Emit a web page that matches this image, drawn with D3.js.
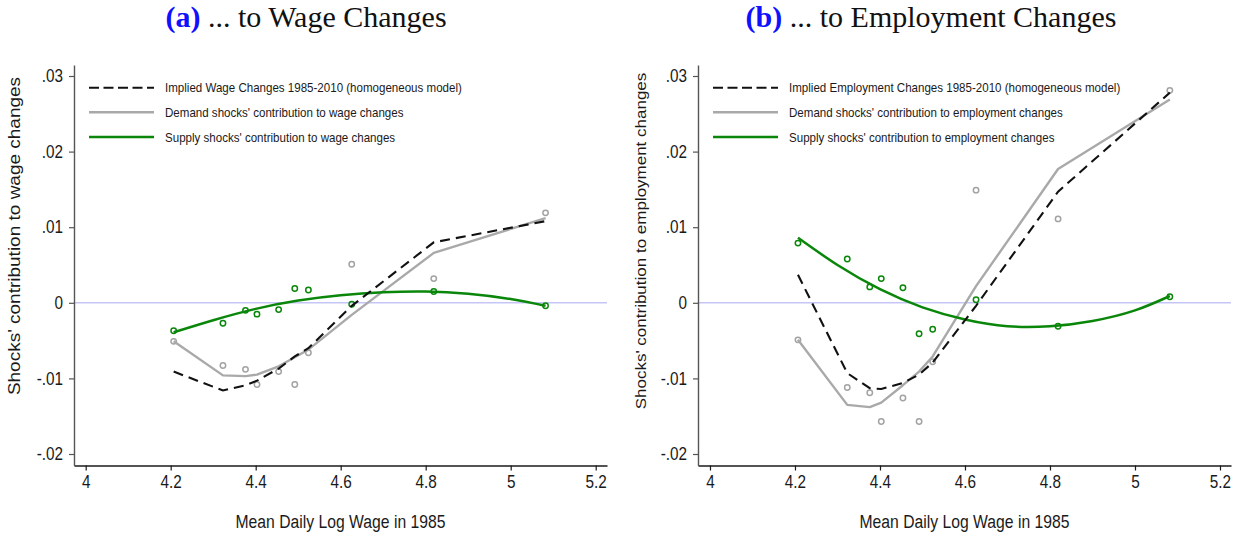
<!DOCTYPE html>
<html>
<head>
<meta charset="utf-8">
<script src="https://cdn.jsdelivr.net/npm/d3@7"></script>
<style>
  body { margin: 0; background: #ffffff; }
  svg text { font-family: "Liberation Sans", Arial, Helvetica, sans-serif; fill: #1a1a1a; }
</style>
</head>
<body>
<svg id="fig" width="1247" height="538"></svg>
<script>
// ---- Data -------------------------------------------------------------
// Mean daily log wage (1985) of each group
const groupX = [4.207, 4.323, 4.376, 4.403, 4.454, 4.492, 4.524, 4.626, 4.819, 5.082];
// Grid for the quadratic supply-shock fit
const fitGridX = [4.207, 4.3, 4.4, 4.5, 4.6, 4.7, 4.8, 4.9, 5.0, 5.082];

// Panel (a): wage changes
const wageDemandPts  = [-0.0051, -0.0083, -0.0088, -0.0108, -0.0091, -0.0108, -0.0066, 0.0051, 0.0032, 0.0119];
const wageSupplyPts  = [-0.0037, -0.0027, -0.0010, -0.0015, -0.0009, 0.0019, 0.0017, -0.0002, 0.0015, -0.0004];
const wageDemandLine = [-0.0051, -0.0096, -0.0097, -0.0095, -0.0084, -0.0072, -0.0062, -0.0016, 0.0066, 0.0112];
const wageImplied    = [-0.0091, -0.0116, -0.0109, -0.0103, -0.0087, -0.0071, -0.0060, -0.0004, 0.0080, 0.0108];
const wageSupplyFit  = [-0.0039, -0.0023, -0.0008, 0.0003, 0.0010, 0.0014, 0.0015, 0.0012, 0.0005, -0.0004];

// Panel (b): employment changes
const empDemandPts  = [-0.0049, -0.0112, -0.0119, -0.0157, -0.0126, -0.0157, -0.0078, 0.0149, 0.0111, 0.0281];
const empSupplyPts  = [0.0079, 0.0058, 0.0021, 0.0032, 0.0020, -0.0041, -0.0035, 0.0004, -0.0031, 0.0008];
const empDemandLine = [-0.0049, -0.0135, -0.0138, -0.0132, -0.0109, -0.0091, -0.0071, 0.0022, 0.0177, 0.0269];
const empImplied    = [0.0037, -0.0093, -0.0113, -0.0114, -0.0106, -0.0095, -0.0079, -0.0004, 0.0147, 0.0278];
const empSupplyFit  = [0.0086, 0.0050, 0.0018, -0.0006, -0.0022, -0.0031, -0.0031, -0.0024, -0.0010, 0.0009];

// Axis ticks
const xTicks = [4, 4.2, 4.4, 4.6, 4.8, 5, 5.2];
const xTickLabels = ["4", "4.2", "4.4", "4.6", "4.8", "5", "5.2"];
const yTicks = [0.03, 0.02, 0.01, 0, -0.01, -0.02];
const yTickLabels = [".03", ".02", ".01", "0", "-.01", "-.02"];

// Text
const xTitle = "Mean Daily Log Wage in 1985";
const wageLegend = [
  "Implied Wage Changes 1985-2010 (homogeneous model)",
  "Demand shocks' contribution to wage changes",
  "Supply shocks' contribution to wage changes"
];
const empLegend = [
  "Implied Employment Changes 1985-2010 (homogeneous model)",
  "Demand shocks' contribution to employment changes",
  "Supply shocks' contribution to employment changes"
];

// ---- Styles -----------------------------------------------------------
const GREEN = "#0a870a";
const GREY_LINE = "#a9a9a9";
const GREY_PT = "#a3a3a3";
const ZERO = "#c6c6f6";
const SQUEEZE = 0.85;   // horizontal condensing of the sans text

const svg = d3.select("#fig");

// place a condensed text element at (x, y)
function place(sel, x, y, extra) {
  sel.attr("x", 0).attr("y", 0)
     .attr("transform", `translate(${x},${y}) scale(${SQUEEZE},1)` + (extra ? " " + extra : ""));
  return sel;
}

function drawPanel(p) {
  const g = svg.append("g");
  const x = d3.scaleLinear().domain(p.xDomain).range([p.left, p.right]);
  const y = d3.scaleLinear().domain([-0.021521, 0.031455]).range([465.5, 65]);

  // zero reference line
  g.append("line")
    .attr("x1", p.left).attr("x2", p.right)
    .attr("y1", y(0)).attr("y2", y(0))
    .attr("stroke", ZERO).attr("stroke-width", 1.6);

  // x axis
  const xa = g.append("g").attr("transform", `translate(0,${y.range()[0]})`)
    .call(d3.axisBottom(x).tickValues(xTicks)
      .tickFormat((d, i) => xTickLabels[i])
      .tickSize(5).tickSizeOuter(0).tickPadding(5));
  xa.select(".domain").attr("stroke", "#1a1a1a").attr("stroke-width", 1.4);
  xa.selectAll(".tick line").attr("stroke", "#1a1a1a").attr("stroke-width", 1.2);
  xa.selectAll(".tick text").attr("font-size", 18).attr("fill", "#1a1a1a")
    .attr("font-family", "Liberation Sans, Arial, sans-serif")
    .attr("transform", `scale(${SQUEEZE},1)`);

  // y axis
  const ya = g.append("g").attr("transform", `translate(${p.left},0)`)
    .call(d3.axisLeft(y).tickValues(yTicks)
      .tickFormat((d, i) => yTickLabels[i])
      .tickSize(5).tickSizeOuter(0).tickPadding(6));
  ya.select(".domain").attr("stroke", "#555").attr("stroke-width", 1.4);
  ya.selectAll(".tick line").attr("stroke", "#555").attr("stroke-width", 1.2);
  ya.selectAll(".tick text").attr("font-size", 18).attr("fill", "#1a1a1a")
    .attr("font-family", "Liberation Sans, Arial, sans-serif")
    .each(function () {
      const t = d3.select(this);
      const x0 = +t.attr("x");
      t.attr("x", 0).attr("transform", `translate(${x0},0) scale(${SQUEEZE},1)`);
    });

  // axis titles
  place(g.append("text").text(xTitle)
    .attr("text-anchor", "middle").attr("font-size", 18.5),
    (p.left + p.right) / 2, 528);
  place(g.append("text").text(p.yTitle)
    .attr("text-anchor", "middle").attr("dy", "0.35em")
    .attr("font-size", p.yTitleSize),
    p.yTitleX, p.yTitleY, "rotate(-90)");

  // scatter: demand (grey) and supply (green)
  const pts = g.append("g").attr("fill", "none").attr("stroke-width", 1.5);
  pts.selectAll(".dp").data(groupX).join("circle")
    .attr("cx", d => x(d)).attr("cy", (d, i) => y(p.demandPts[i]))
    .attr("r", 2.7).attr("stroke", GREY_PT);
  pts.selectAll(".sp").data(groupX).join("circle")
    .attr("cx", d => x(d)).attr("cy", (d, i) => y(p.supplyPts[i]))
    .attr("r", 2.7).attr("stroke", GREEN);

  // lines
  const lin = d3.line().x(d => x(d[0])).y(d => y(d[1]));
  const smooth = d3.line().x(d => x(d[0])).y(d => y(d[1])).curve(d3.curveNatural);

  g.append("path").datum(d3.zip(groupX, p.demandLine)).attr("d", lin)
    .attr("fill", "none").attr("stroke", GREY_LINE).attr("stroke-width", 2.4)
    .attr("stroke-linejoin", "round");
  g.append("path").datum(d3.zip(fitGridX, p.supplyFit)).attr("d", smooth)
    .attr("fill", "none").attr("stroke", GREEN).attr("stroke-width", 2.5);
  g.append("path").datum(d3.zip(groupX, p.implied)).attr("d", lin)
    .attr("fill", "none").attr("stroke", "#111").attr("stroke-width", 2.1)
    .attr("stroke-dasharray", "10,6");

  // legend
  const legStyles = [
    { stroke: "#111", width: 2.1, dash: "10,4.5" },
    { stroke: GREY_LINE, width: 2.6, dash: null },
    { stroke: GREEN, width: 2.6, dash: null }
  ];
  const legY = [87.7, 112.3, 137];
  p.legend.forEach((label, i) => {
    const s = legStyles[i];
    g.append("line")
      .attr("x1", p.legX).attr("x2", p.legX + 65)
      .attr("y1", legY[i]).attr("y2", legY[i])
      .attr("stroke", s.stroke).attr("stroke-width", s.width)
      .attr("stroke-dasharray", s.dash);
    place(g.append("text").text(label)
      .attr("font-size", 13.6).attr("dy", "0.35em"),
      p.legX + 76, legY[i]);
  });

  // panel title
  const title = svg.append("text")
    .attr("x", p.titleX).attr("y", 27)
    .attr("text-anchor", "middle")
    .style("font-family", "'Liberation Serif', 'Times New Roman', serif")
    .attr("font-size", 30);
  title.append("tspan").text(p.tag).attr("font-weight", "bold").style("fill", "#1010ff");
  title.append("tspan").text(" ... " + p.titleText).style("fill", "#111");
}

drawPanel({
  left: 74, right: 607, xDomain: [3.9725, 5.2266],
  yTitle: "Shocks' contribution to wage changes", yTitleX: 14, yTitleY: 236, yTitleSize: 19,
  demandPts: wageDemandPts, supplyPts: wageSupplyPts,
  demandLine: wageDemandLine, implied: wageImplied, supplyFit: wageSupplyFit,
  legend: wageLegend, legX: 89,
  tag: "(a)", titleText: "to Wage Changes", titleX: 306
});

drawPanel({
  left: 698, right: 1231, xDomain: [3.9718, 5.2259],
  yTitle: "Shocks' contribution to employment changes", yTitleX: 641, yTitleY: 241, yTitleSize: 17,
  demandPts: empDemandPts, supplyPts: empSupplyPts,
  demandLine: empDemandLine, implied: empImplied, supplyFit: empSupplyFit,
  legend: empLegend, legX: 713,
  tag: "(b)", titleText: "to Employment Changes", titleX: 931
});
</script>
</body>
</html>
